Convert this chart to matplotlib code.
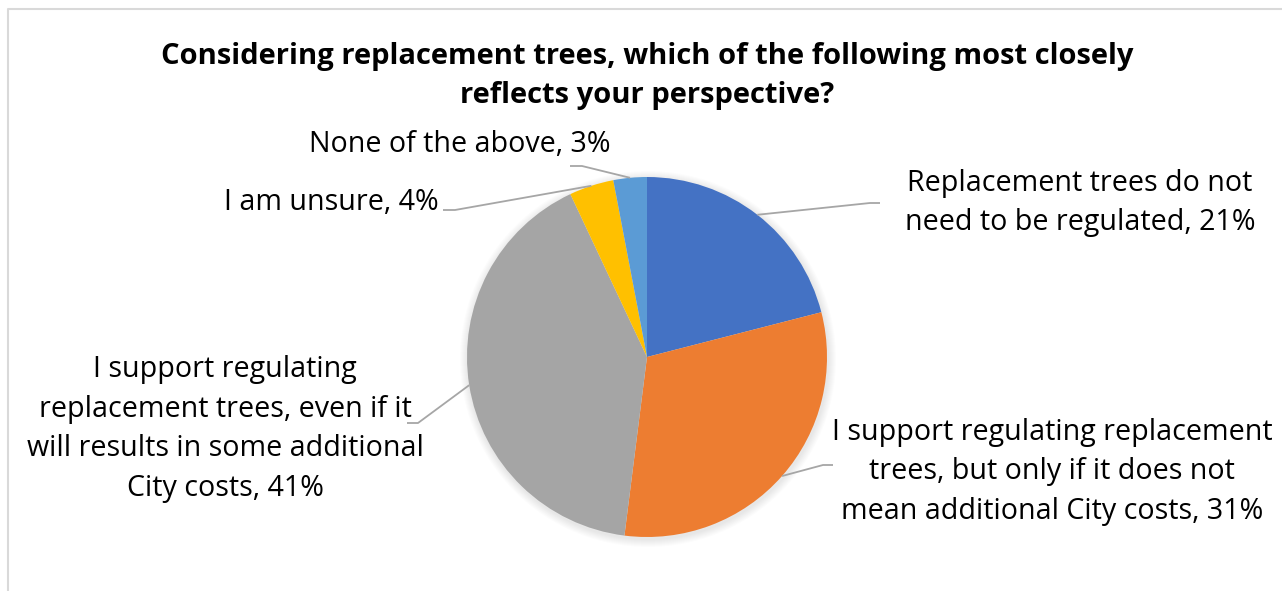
import matplotlib.pyplot as plt
import numpy as np

plt.rcParams['font.family'] = ['Open Sans', 'DejaVu Sans']

title = 'Considering replacement trees, which of the following most closely\nreflects your perspective?'
labels = ['Replacement trees do not\nneed to be regulated',
          'I support regulating replacement\ntrees, but only if it does not\nmean additional City costs',
          'I support regulating\nreplacement trees, even if it\nwill results in some additional\nCity costs',
          'I am unsure',
          'None of the above']
values = [21, 31, 41, 4, 3]
colors = ['#4472C4', '#ED7D31', '#A5A5A5', '#FFC000', '#5B9BD5']

# layout in pixels measured from the top-left corner
W, H = 1282, 591
cx, cy, r = 647, 357, 180
label_xy = [(1080, 203), (1052, 472), (225, 429), (331, 202), (460, 145)]
elbows = [((870, 203), (880, 203)), ((823, 465), (833, 465)), ((418, 423), (407, 423)),
          ((455, 210), (443, 210)), ((582, 166), (570, 166))]

fig = plt.figure(figsize=(W / 100, H / 100), dpi=100)
ax = fig.add_axes([0, 0, 1, 1])

# soft shadow behind the pie
for k in range(8):
    ax.add_patch(plt.Circle((cx + 1, H - cy - 2), r + 8 - k, color='black', alpha=0.012, lw=0))

wedges, _ = ax.pie(values, colors=colors, startangle=90, counterclock=False,
                   center=(cx, H - cy), radius=r, wedgeprops=dict(linewidth=0))
ax.set_xlim(0, W)
ax.set_ylim(0, H)
ax.axis('off')

total = sum(values)
for w, lab, v, (tx, ty), (p1, p2) in zip(wedges, labels, values, label_xy, elbows):
    mid = np.deg2rad((w.theta1 + w.theta2) / 2)
    sx, sy = cx + r * np.cos(mid), (H - cy) + r * np.sin(mid)
    ax.plot([sx, p1[0], p2[0]], [sy, H - p1[1], H - p2[1]], color='#A6A6A6', lw=1.3, solid_capstyle='butt')
    ax.text(tx, H - ty, f'{lab}, {round(100 * v / total)}%', ha='center', va='center',
            multialignment='center', fontsize=20.6, color='#000000', linespacing=1.48)

ax.text(647, H - 76, title, ha='center', va='center', fontsize=21, fontweight='bold',
        color='#000000', linespacing=1.42)

# chart frame (left and top edges visible)
ax.plot([8, 8, W + 5], [-5, H - 9, H - 9], color='#D9D9D9', lw=1.5, clip_on=False)

fig.savefig('out.png', dpi=100)
